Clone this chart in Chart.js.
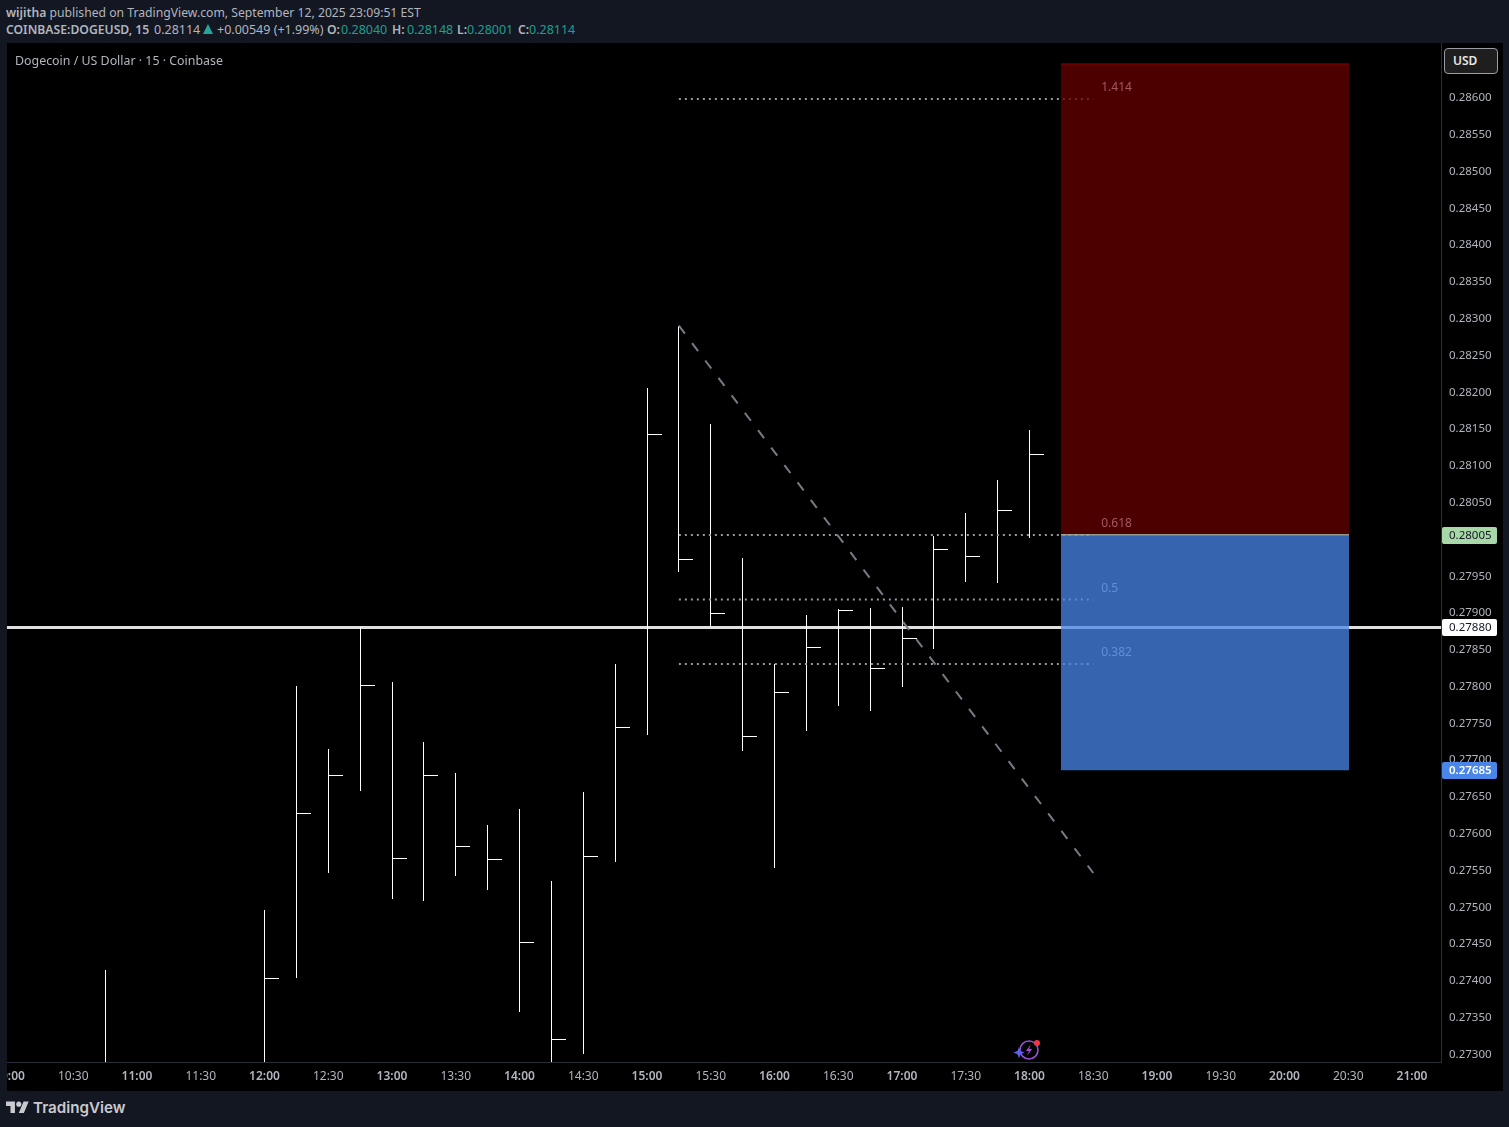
<!DOCTYPE html>
<html>
<head>
<meta charset="utf-8">
<title>DOGEUSD</title>
<script src="https://cdn.jsdelivr.net/npm/chart.js@4"></script>
<style>
  html, body { margin: 0; padding: 0; width: 1509px; height: 1127px; background: #131722; overflow: hidden; font-family: "Noto Sans", sans-serif; }
  .txt { position: absolute; white-space: nowrap; font-size: 12.2px; line-height: 16px; color: #b2b5be; }
  .txt b { font-weight: 600; }
  .up { color: #1f9e90; font-size: 12.5px; }
  #chart { position: absolute; left: 7px; top: 43px; background: #000; }
  #usd { position: absolute; left: 1444px; top: 48px; width: 54px; height: 26px; box-sizing: border-box; border: 1.5px solid #9a9da6; border-radius: 4px; background: #1e1e1e; color: #e8e8e8; font-size: 12px; font-weight: 600; line-height: 23px; padding-left: 8px; }
</style>
</head>
<body>
<div class="txt" style="left:6px;top:5px"><b>wijitha</b> published on TradingView.com, September 12, 2025 23:09:51 EST</div>
<div class="txt" style="left:6px;top:22px"><b>COINBASE:DOGEUSD, 15</b></div>
<div class="txt" style="left:154px;top:22px;font-size:12.5px">0.28114</div>
<div style="position:absolute;left:203px;top:24px;width:0;height:0;border-left:5.5px solid transparent;border-right:5.5px solid transparent;border-bottom:10px solid #26a69a"></div>
<div class="txt" style="left:217px;top:22px;font-size:12.5px">+0.00549 (+1.99%)</div>
<div class="txt" style="left:327px;top:22px"><b>O:</b></div>
<div class="txt up" style="left:341px;top:22px">0.28040</div>
<div class="txt" style="left:392px;top:22px"><b>H:</b></div>
<div class="txt up" style="left:407px;top:22px">0.28148</div>
<div class="txt" style="left:457px;top:22px"><b>L:</b></div>
<div class="txt up" style="left:467px;top:22px">0.28001</div>
<div class="txt" style="left:518px;top:22px"><b>C:</b></div>
<div class="txt up" style="left:529px;top:22px">0.28114</div>
<canvas id="chart" width="1496" height="1048"></canvas>
<div class="txt" style="left:15px;top:53px;font-size:12.4px">Dogecoin / US Dollar · 15 · Coinbase</div>
<div id="usd">USD</div>
<svg style="position:absolute;left:1012px;top:1036px" width="32" height="26" viewBox="0 0 32 26">
  <circle cx="17" cy="14" r="9" fill="none" stroke="#9a4fd0" stroke-width="1.6"/>
  <path d="M19 8l-5 7h3l-2 5 5-7h-3z" fill="#a64fd8"/>
  <path d="M7 11l1.6 4 4 1.6-4 1.6-1.6 4-1.6-4-4-1.6 4-1.6z" fill="#5b5ff0"/>
  <circle cx="25" cy="7" r="3" fill="#f23645"/>
</svg>
<svg style="position:absolute;left:6px;top:1099px" width="23" height="18" viewBox="0 0 36 28"><path fill="#c8cad0" d="M14 22H7V11H0V4h14v18zM28 22h-8l7.5-18h8L28 22z"/><circle fill="#c8cad0" cx="20" cy="8" r="4"/></svg>
<div class="txt" style="left:33px;top:1098px;font:600 15.2px/20px Inter,sans-serif;color:#c8cad0">TradingView</div>
<script>
// bars, 15 min. lows/closes under 0.2729 are off the chart, estimated
var barTimes = ["10:45","12:00","12:15","12:30","12:45","13:00","13:15","13:30","13:45","14:00","14:15","14:30","14:45","15:00","15:15","15:30","15:45","16:00","16:15","16:30","16:45","17:00","17:15","17:30","17:45","18:00"];
var highs = [0.274135,0.274950,0.277995,0.277139,0.278793,0.278049,0.277234,0.276812,0.276106,0.276323,0.275345,0.276554,0.278294,0.282041,0.282892,0.281556,0.279735,0.278294,0.278960,0.279041,0.279055,0.279068,0.280033,0.280346,0.280795,0.281480];
var lows = [0.272600,0.272600,0.274030,0.275457,0.276572,0.275104,0.275077,0.275417,0.275226,0.273568,0.272700,0.272997,0.275607,0.277333,0.279548,0.278797,0.277115,0.275525,0.277383,0.277723,0.277655,0.277981,0.278502,0.279412,0.279399,0.280010];
var closes = [0.272700,0.274022,0.276265,0.276781,0.278004,0.275653,0.276781,0.275816,0.275640,0.274511,0.273193,0.275680,0.277433,0.281416,0.279717,0.278983,0.277311,0.277909,0.278521,0.279024,0.278235,0.278643,0.279853,0.279758,0.280383,0.281140];

var timeLabels = ["10:00","10:30","11:00","11:30","12:00","12:30","13:00","13:30","14:00","14:30","15:00","15:30","16:00","16:30","17:00","17:30","18:00","18:30","19:00","19:30","20:00","20:30","21:00"];
var priceLabels = ["0.28600","0.28550","0.28500","0.28450","0.28400","0.28350","0.28300","0.28250","0.28200","0.28150","0.28100","0.28050","0.28000","0.27950","0.27900","0.27850","0.27800","0.27750","0.27700","0.27650","0.27600","0.27550","0.27500","0.27450","0.27400","0.27350","0.27300"];

// drawing tools
var trendTimes = ["15:15","18:30"];
var trendPrices = [0.282892,0.275453];
var fibLevels = ["1.414","0.618","0.5","0.382"];
var fibPrices = [0.285972,0.280047,0.279171,0.278294];
var fibTextColors = ["#a85560","#a85560","#5f8fdc","#5f8fdc"];
var boxMins = [1094.8,1230.4];
var boxTop = 0.286449;
var boxMiddle = 0.28005;
var boxBottom = 0.27685;
var lastPrice = 0.27879;

var tagLabels = ["0.28005","0.27880","0.27685"];
var tagPrices = [0.28005,0.27879,0.27685];
var tagColors = ["#a9d8a8","#ffffff","#4a86e8"];
var tagTextColors = ["#131722","#131722","#ffffff"];

function mins(t) {
	var p = t.split(":");
	return +p[0] * 60 + +p[1];
}

// right hand close tick, image is centred on the point so only its right half is painted
function closeTick() {
	var c = document.createElement("canvas");
	c.width = 29;
	c.height = 1;
	var g = c.getContext("2d");
	g.fillStyle = "#ffffff";
	g.fillRect(15, 0, 14, 1);
	return c;
}

var crisp = {
	id: "crisp",
	beforeDatasetsDraw: function (chart) {
		chart.getSortedVisibleDatasetMetas().forEach(function (m) {
			if (m.type === "bar") {
				m.data.forEach(function (el) {
					el.x = Math.floor(el.x + 0.05) + 0.5;
					el.y = Math.round(el.y);
					el.base = Math.round(el.base);
				});
			}
			if (m.type === "scatter") {
				m.data.forEach(function (el) {
					el.x = Math.floor(el.x + 0.05) + 0.5;
					el.y = Math.floor(el.y) + 0.5;
				});
			}
		});
	}
};

var labels = {
	id: "labels",
	afterDatasetsDraw: function (chart) {
		var g = chart.ctx, xs = chart.scales.x, ys = chart.scales.y;
		g.save();
		g.font = "12px 'Noto Sans'";
		g.textBaseline = "middle";
		g.textAlign = "left";
		fibLevels.forEach(function (l, i) {
			g.fillStyle = fibTextColors[i];
			g.fillText(l, xs.getPixelForValue(mins("18:30")) + 8, ys.getPixelForValue(fibPrices[i]) - 11);
		});
		g.restore();
	},
	afterDraw: function (chart) {
		var g = chart.ctx, ys = chart.scales.y;
		g.save();
		g.textBaseline = "middle";
		g.textAlign = "left";
		tagLabels.forEach(function (l, i) {
			var y = Math.round(ys.getPixelForValue(tagPrices[i]));
			g.fillStyle = tagColors[i];
			g.beginPath();
			g.roundRect(chart.chartArea.right + 1, y - 8, 55, 17, 2);
			g.fill();
			g.fillStyle = tagTextColors[i];
			g.font = (i == 2 ? "600 " : "") + "11.5px 'Noto Sans'";
			g.fillText(l, chart.chartArea.right + 8, y + 1);
		});
		g.restore();
	}
};

var fibSets = fibPrices.map(function (p, i) {
	return {
		type: "line",
		label: fibLevels[i],
		data: trendTimes.map(function (t) { return { x: mins(t), y: p }; }),
		borderColor: "#9598a1",
		borderWidth: 2,
		borderDash: [2, 4],
		pointRadius: 0,
		order: 5
	};
});

new Chart(document.getElementById("chart"), {
	type: "bar",
	data: {
		datasets: [
			{
				type: "line",
				label: "last",
				data: [{ x: 590, y: lastPrice }, { x: 1280, y: lastPrice }],
				borderColor: "#e0e0e0",
				borderWidth: 3,
				pointRadius: 0,
				order: 7
			},
			{
				label: "range",
				data: barTimes.map(function (t, i) { return { x: mins(t), y: [lows[i], highs[i]] }; }),
				backgroundColor: "#ffffff",
				barThickness: 1,
				inflateAmount: 0,
				order: 6
			},
			{
				type: "scatter",
				label: "close",
				data: barTimes.map(function (t, i) { return { x: mins(t), y: closes[i] }; }),
				pointStyle: closeTick(),
				pointRadius: 1,
				order: 6
			}
		].concat(fibSets, [
			{
				type: "line",
				label: "trend",
				data: trendTimes.map(function (t, i) { return { x: mins(t), y: trendPrices[i] }; }),
				borderColor: "#787b86",
				borderWidth: 2,
				borderDash: [10, 11.85],
				pointRadius: 0,
				order: 4
			},
			{
				type: "line",
				label: "stop",
				data: boxMins.map(function (m) { return { x: m, y: boxTop }; }),
				borderColor: "#8f0000",
				borderWidth: 1,
				backgroundColor: "rgba(102,0,0,0.75)",
				fill: { target: { value: boxMiddle } },
				pointRadius: 0,
				order: 3
			},
			{
				type: "line",
				label: "target",
				data: boxMins.map(function (m) { return { x: m, y: boxMiddle }; }),
				borderColor: "#b9c9a4",
				borderWidth: 1,
				backgroundColor: "rgba(74,134,232,0.75)",
				fill: { target: { value: boxBottom } },
				pointRadius: 0,
				order: 2
			}
		])
	},
	options: {
		responsive: false,
		animation: false,
		events: [],
		layout: { autoPadding: false },
		plugins: { legend: { display: false }, tooltip: { enabled: false } },
		scales: {
			x: {
				type: "linear",
				offset: false,
				bounds: "data",
				min: 598.824,
				max: 1273.647,
				grid: { display: false, drawTicks: false, offset: false },
				border: { color: "#2a2e39" },
				afterBuildTicks: function (s) {
					s.ticks = timeLabels.map(function (t) { return { value: mins(t) }; });
				},
				afterFit: function (s) {
					s.height = 29;
					s.paddingLeft = 0;
					s.paddingRight = 0;
				},
				ticks: {
					autoSkip: false,
					maxRotation: 0,
					minRotation: 0,
					padding: 7,
					color: "#b2b5be",
					font: function (c) {
						return {
							family: "'Noto Sans'",
							size: 12,
							weight: c.tick && c.tick.value % 60 == 0 ? "600" : "400"
						};
					},
					callback: function (v) {
						return timeLabels[timeLabels.map(mins).indexOf(v)];
					}
				}
			},
			y: {
				type: "linear",
				position: "right",
				bounds: "data",
				min: 0.272884,
				max: 0.286734,
				grid: { display: false, drawTicks: false },
				border: { color: "#2a2e39" },
				afterBuildTicks: function (s) {
					s.ticks = priceLabels.map(function (p) { return { value: parseFloat(p) }; });
				},
				afterFit: function (s) {
					s.width = 62;
					s.paddingTop = 0;
					s.paddingBottom = 0;
				},
				ticks: {
					autoSkip: false,
					padding: 8,
					labelOffset: 1,
					color: "#b2b5be",
					font: { family: "'Noto Sans'", size: 11.5 },
					callback: function (v) {
						return v.toFixed(5);
					}
				}
			}
		}
	},
	plugins: [crisp, labels]
});
</script>
</body>
</html>
